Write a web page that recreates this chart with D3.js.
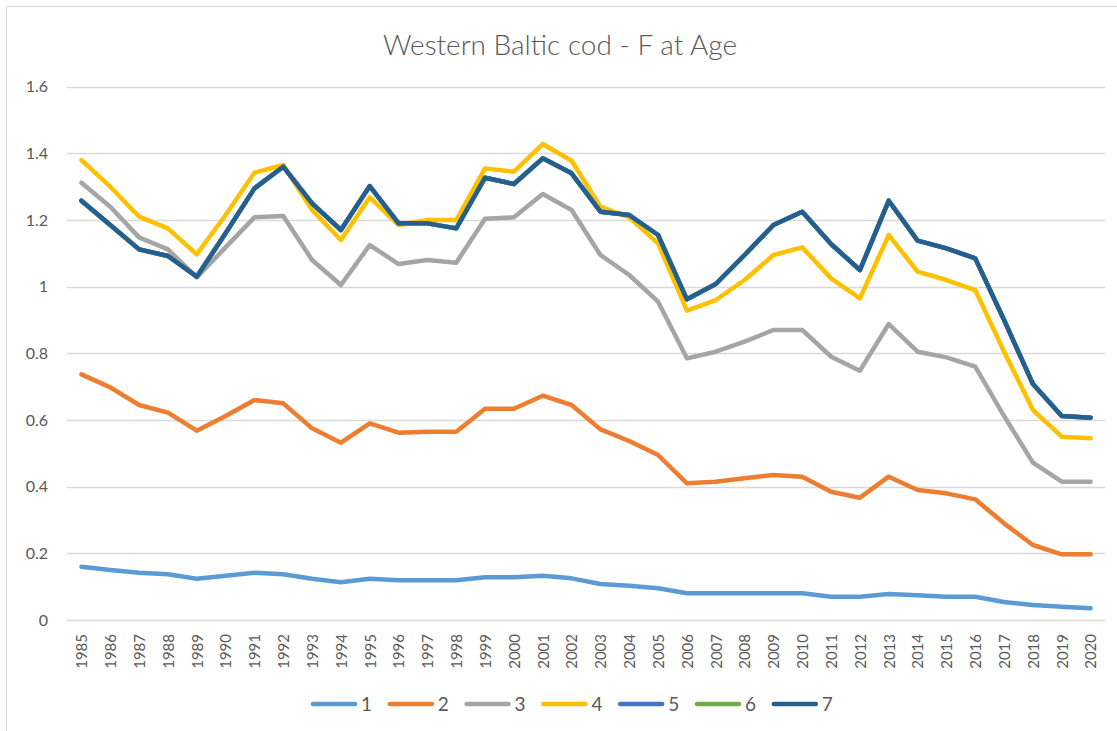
<!DOCTYPE html>
<html>
<head>
<meta charset="utf-8">
<script src="https://cdn.jsdelivr.net/npm/d3@7"></script>
<style>
  body { margin: 0; background: #fff; }
  text { font-family: Lato, "Open Sans", sans-serif; fill: #595959; }
</style>
</head>
<body>
<script>
// years on the category axis
var years = d3.range(1985, 2021).map(String);

// F at age
var age1 = [0.160, 0.150, 0.142, 0.137, 0.124, 0.133, 0.142, 0.137, 0.124, 0.113, 0.124, 0.119,
            0.119, 0.119, 0.128, 0.128, 0.133, 0.125, 0.108, 0.103, 0.095, 0.080, 0.080, 0.080,
            0.080, 0.080, 0.070, 0.070, 0.078, 0.074, 0.070, 0.070, 0.054, 0.045, 0.040, 0.035];
var age2 = [0.737, 0.698, 0.645, 0.622, 0.568, 0.612, 0.660, 0.650, 0.575, 0.532, 0.590, 0.562,
            0.565, 0.565, 0.634, 0.634, 0.673, 0.645, 0.572, 0.537, 0.495, 0.410, 0.415, 0.425,
            0.435, 0.430, 0.385, 0.367, 0.430, 0.390, 0.380, 0.362, 0.290, 0.225, 0.197, 0.197];
var age3 = [1.312, 1.240, 1.148, 1.112, 1.028, 1.118, 1.208, 1.212, 1.080, 1.005, 1.125, 1.068,
            1.080, 1.072, 1.204, 1.208, 1.278, 1.230, 1.095, 1.035, 0.955, 0.785, 0.805, 0.835,
            0.870, 0.870, 0.790, 0.748, 0.888, 0.805, 0.788, 0.760, 0.612, 0.472, 0.415, 0.415];
var age4 = [1.380, 1.300, 1.210, 1.175, 1.097, 1.215, 1.342, 1.365, 1.230, 1.140, 1.268, 1.185,
            1.200, 1.200, 1.355, 1.345, 1.428, 1.378, 1.240, 1.208, 1.130, 0.928, 0.960, 1.020,
            1.095, 1.118, 1.025, 0.965, 1.155, 1.045, 1.020, 0.990, 0.805, 0.630, 0.550, 0.545];
var age7 = [1.258, 1.185, 1.112, 1.092, 1.030, 1.160, 1.295, 1.360, 1.250, 1.170, 1.302, 1.190,
            1.190, 1.175, 1.327, 1.308, 1.385, 1.340, 1.225, 1.215, 1.155, 0.962, 1.008, 1.095,
            1.185, 1.225, 1.128, 1.050, 1.258, 1.138, 1.115, 1.085, 0.900, 0.708, 0.612, 0.607];
// ages 5 and 6 sit under the plus group line (not visible in the picture)
var age5 = age7.slice();
var age6 = age7.slice();

var seriesNames = ["1", "2", "3", "4", "5", "6", "7"];
var seriesColors = ["#5B9BD5", "#ED7D31", "#A5A5A5", "#FFC000", "#4472C4", "#70AD47", "#255E91"];
var yTicks = [0, 0.2, 0.4, 0.6, 0.8, 1, 1.2, 1.4, 1.6];

var allSeries = [age1, age2, age3, age4, age5, age6, age7];

var W = 1117, H = 731;
var svg = d3.select("body").append("svg")
    .attr("width", W)
    .attr("height", H);

// chart frame
svg.append("rect")
    .attr("x", 6.5).attr("y", 6.5)
    .attr("width", W + 20).attr("height", H + 20)
    .attr("fill", "none")
    .attr("stroke", "#d9d9d9");

var x = d3.scalePoint()
    .domain(years)
    .range([67, 1105])
    .padding(0.5);

var y = d3.scaleLinear()
    .domain([0, 1.6])
    .range([620, 86.7]);

// gridlines
svg.append("g")
    .selectAll("line")
    .data(yTicks)
    .enter()
    .append("line")
    .attr("x1", 67)
    .attr("x2", 1105)
    .attr("y1", function (d) { return Math.round(y(d)) + 0.5; })
    .attr("y2", function (d) { return Math.round(y(d)) + 0.5; })
    .style("stroke", "#d9d9d9")
    .style("stroke-width", 1.3);

// y axis labels
var yAxis = d3.axisLeft(y)
    .tickValues(yTicks)
    .tickSize(0)
    .tickPadding(0)
    .tickFormat(function (d) { return d3.format("")(+d.toFixed(1)); });
var yAxisGroup = svg.append("g")
    .attr("transform", "translate(48,0)")
    .call(yAxis);
yAxisGroup.select(".domain").remove();
yAxisGroup.selectAll("text")
    .style("font-size", "16px")
    .attr("fill", "#595959");

// x axis labels, rotated
var xAxis = d3.axisBottom(x).tickSize(0).tickPadding(0);
var xAxisGroup = svg.append("g")
    .attr("transform", "translate(0,634)")
    .call(xAxis);
xAxisGroup.select(".domain").remove();
xAxisGroup.selectAll("text")
    .style("font-size", "15px")
    .attr("fill", "#595959")
    .attr("transform", "rotate(-90)")
    .attr("x", 0)
    .attr("y", 0)
    .attr("dy", "0.35em")
    .style("text-anchor", "end");

// lines
var line = d3.line()
    .x(function (d, i) { return x(years[i]); })
    .y(function (d) { return y(d); });

svg.append("g")
    .selectAll("path")
    .data(allSeries)
    .enter()
    .append("path")
    .attr("d", line)
    .attr("fill", "none")
    .attr("stroke", function (d, i) { return seriesColors[i]; })
    .attr("stroke-width", 4.5)
    .attr("stroke-linejoin", "round")
    .attr("stroke-linecap", "round");

// title
svg.append("text")
    .attr("x", 560)
    .attr("y", 55)
    .attr("text-anchor", "middle")
    .style("font-size", "28px")
    .style("font-weight", 300)
    .text("Western Baltic cod - F at Age");

// legend
var legend = svg.append("g")
    .selectAll("g")
    .data(seriesNames)
    .enter()
    .append("g")
    .attr("transform", function (d, i) { return "translate(" + (311 + i * 76.8) + ",704)"; });

legend.append("line")
    .attr("x1", 2).attr("x2", 44)
    .attr("y1", 0).attr("y2", 0)
    .attr("stroke", function (d, i) { return seriesColors[i]; })
    .attr("stroke-width", 4.5)
    .attr("stroke-linecap", "round");

legend.append("text")
    .attr("x", 50)
    .attr("y", 0)
    .attr("dy", "0.35em")
    .style("font-size", "19px")
    .text(function (d) { return d; });
</script>
</body>
</html>
